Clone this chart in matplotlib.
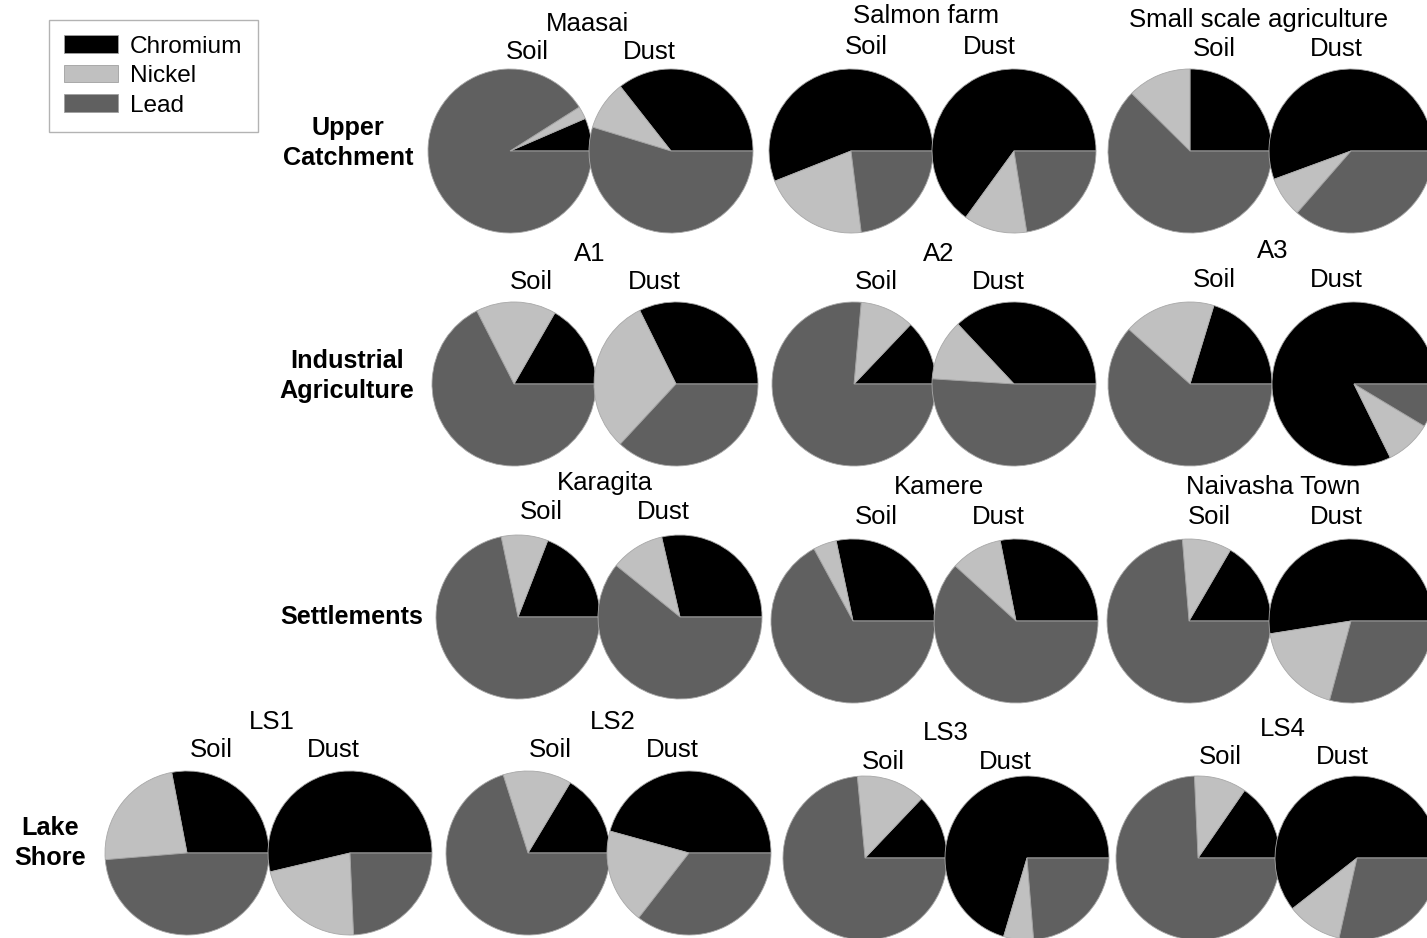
"""Soil vs dust metal composition pies (Cr / Ni / Pb) per site."""

import matplotlib

matplotlib.use("Agg")
import matplotlib.pyplot as plt
from matplotlib.patches import Patch

# Data: percentage share of each metal, ordered as in `sites`
sites = ["Maasai", "Salmon farm", "Small scale agriculture",
         "A1", "A2", "A3",
         "Karagita", "Kamere", "Naivasha Town",
         "LS1", "LS2", "LS3", "LS4"]
metals = ["Chromium", "Nickel", "Lead"]

chromium_soil = [6.5, 56.0, 25.0, 16.7, 12.9, 20.3, 19.1, 28.3, 16.6, 28.0, 16.4, 12.9, 15.4]
nickel_soil = [2.5, 21.0, 12.6, 15.8, 10.7, 18.1, 9.2, 4.6, 9.7, 23.3, 13.5, 13.6, 10.3]
lead_soil = [91.0, 23.0, 62.4, 67.5, 76.4, 61.6, 71.7, 67.1, 73.7, 48.7, 70.1, 73.5, 74.3]

chromium_dust = [35.6, 65.0, 55.6, 32.3, 37.0, 82.3, 28.6, 28.1, 52.5, 53.7, 45.7, 70.4, 60.6]
nickel_dust = [9.7, 12.5, 8.0, 30.8, 12.0, 9.1, 10.6, 10.2, 18.3, 22.0, 18.8, 5.9, 10.9]
lead_dust = [54.7, 22.5, 36.4, 36.9, 51.0, 8.6, 60.8, 61.7, 29.2, 24.3, 35.5, 23.7, 28.5]

row_labels = ["Upper\nCatchment", "Industrial\nAgriculture", "Settlements", "Lake\nShore"]

# Layout (pixel coordinates, y measured from top)
soil_x = [510, 851, 1190, 514, 854, 1190, 518, 853, 1189, 187, 528, 865, 1198]
dust_x = [671, 1014, 1351, 676, 1014, 1354, 680, 1016, 1351, 350, 689, 1027, 1357]
pie_y = [151, 151, 151, 384, 384, 384, 617, 621, 621, 853, 853, 858, 858]
title_x = [587, 926, 1259, 590, 939, 1273, 605, 939, 1273, 272, 613, 946, 1283]
title_y = [31, 23, 27, 261, 261, 258, 490, 494, 494, 729, 729, 740, 736]
soil_lx = [527, 866, 1214, 531, 876, 1214, 541, 876, 1209, 211, 550, 883, 1220]
dust_lx = [649, 989, 1336, 654, 998, 1336, 663, 998, 1336, 333, 672, 1005, 1342]
sub_y = [59, 54, 56, 289, 289, 287, 519, 524, 524, 757, 757, 769, 764]
row_lx = [348, 347, 352, 50]
row_ly = [143, 376, 617, 843]

W, H = 1427, 938
RADIUS = 82
colors = ["#000000", "#c0c0c0", "#606060"]
FONT = "Liberation Sans"

fig = plt.figure(figsize=(W / 100, H / 100), dpi=100)
ax = fig.add_axes([0, 0, 1, 1])

wedge_style = {"edgecolor": "#a8a8a8", "linewidth": 0.6}
for i in range(len(sites)):
    soil = [chromium_soil[i], nickel_soil[i], lead_soil[i]]
    dust = [chromium_dust[i], nickel_dust[i], lead_dust[i]]
    # y axis is inverted below, so clockwise in data reads counter-clockwise
    for vals, cx in ((soil, soil_x[i]), (dust, dust_x[i])):
        ax.pie(vals, colors=colors, startangle=0, counterclock=False,
               center=(cx, pie_y[i]), radius=RADIUS, frame=True,
               wedgeprops=wedge_style)

    ax.text(title_x[i], title_y[i], sites[i], ha="center", va="baseline",
            fontsize=18.5, family=FONT)
    ax.text(soil_lx[i], sub_y[i], "Soil", ha="center", va="baseline",
            fontsize=18.5, family=FONT)
    ax.text(dust_lx[i], sub_y[i], "Dust", ha="center", va="baseline",
            fontsize=18.5, family=FONT)

for label, x, y in zip(row_labels, row_lx, row_ly):
    ax.text(x, y, label, ha="center", va="center", fontsize=18.2,
            fontweight="bold", family=FONT, linespacing=1.32)

ax.set_xlim(0, W)
ax.set_ylim(H, 0)
ax.set_aspect("auto")
ax.axis("off")

handles = [Patch(facecolor=c, edgecolor="#a0a0a0", linewidth=0.6) for c in colors]
leg = fig.legend(handles, metals, loc="upper left",
                 bbox_to_anchor=(49 / W, 1 - 20 / H), borderaxespad=0,
                 prop={"family": FONT, "size": 17.6}, fancybox=False,
                 handlelength=2.2, handleheight=0.74, handletextpad=0.5,
                 labelspacing=0.29, borderpad=0.62)
leg.get_frame().set_edgecolor("#a0a0a0")
leg.get_frame().set_linewidth(1.0)

fig.savefig("out.png", dpi=100)
plt.close(fig)
